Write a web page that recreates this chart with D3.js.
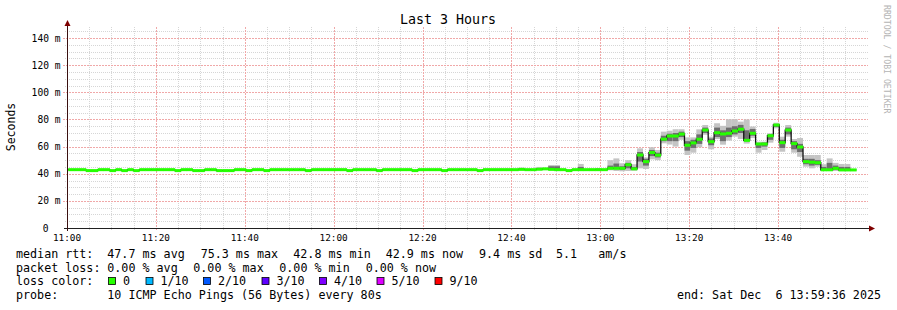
<!DOCTYPE html>
<html>
<head>
<meta charset="utf-8">
<script src="https://cdn.jsdelivr.net/npm/d3@7"></script>
<style>
  html, body { margin: 0; padding: 0; background: #ffffff; }
  svg { display: block; }
  text { font-family: "DejaVu Sans Mono", monospace; fill: #000; white-space: pre; }
</style>
</head>
<body>
<svg id="chart" width="897" height="310"></svg>
<script>
// ---------------- DATA ----------------
const title = "Last 3 Hours";
const yAxisLabel = "Seconds";
const stepSeconds = 80;
const firstStep = "2025-12-06T11:00:16Z";
const timeStart = "2025-12-06T11:00:00Z";
const timeEnd = "2025-12-06T14:00:00Z";

// median rtt per 80 s step (ms)
const median = [
  43.0,43.0,43.0,42.3,42.3,43.0,43.0,42.3,43.0,42.3,
  43.0,42.3,43.0,43.0,43.0,43.0,43.0,43.0,42.3,43.0,
  43.0,42.3,42.3,43.0,43.0,42.3,42.3,42.3,43.0,43.0,
  42.3,43.0,43.0,42.3,43.0,43.0,43.0,43.0,43.0,43.0,
  42.3,43.0,43.0,43.0,43.0,43.0,43.0,42.3,43.0,43.0,
  43.0,43.0,42.3,43.0,43.0,43.0,43.0,43.0,42.3,43.0,
  43.0,43.0,43.0,42.3,43.0,43.0,43.0,43.0,43.0,42.3,
  43.0,43.0,43.0,43.0,43.0,43.0,43.2,43.0,43.0,43.3,
  43.6,43.2,43.0,43.0,42.3,43.0,43.0,43.0,43.0,43.0,
  43.0,44.0,44.0,44.0,46.6,43.6,53.8,48.9,55.6,53.7,
  65.5,67.8,67.8,69.2,61.0,62.7,65.4,72.2,63.6,70.2,
  69.3,69.8,71.5,72.8,64.6,69.8,61.9,61.9,68.0,75.9,
  62.9,72.2,62.2,59.7,48.9,48.5,48.1,42.9,42.9,44.0,
  42.8,42.8,42.8
];

// smoke (spread of the 10 pings): steps with visible smoke only
const smokeStep = [76,79,81,82,86,89,
  91,92,93,94,95,96,97,98,99,100,101,102,103,104,105,106,107,108,109,110,
  111,112,113,114,115,116,117,118,119,120,121,122,123,124,125,126,127,128,129,130,131];
const smokeMax = [44.5,45.0,46.4,46.4,47.2,44.2,
  50.0,51.3,47.7,50.0,47.0,58.7,52.0,59.5,57.5,71.0,71.7,72.8,72.8,66.8,66.8,72.7,75.9,67.3,77.2,75.3,
  80.1,80.1,78.4,80.0,74.8,63.6,63.6,69.8,77.6,67.3,75.9,65.6,66.3,53.8,53.8,53.8,47.0,51.3,48.0,47.2,47.2];
const smokeMin = [43.0,43.0,42.8,42.8,43.0,43.0,
  42.5,42.0,41.8,42.0,42.2,44.0,43.5,50.6,50.0,62.4,61.5,60.0,65.0,53.8,55.5,59.5,68.7,58.0,65.6,61.4,
  64.4,67.3,65.6,62.2,66.3,55.5,57.5,62.9,73.5,56.2,67.3,55.5,52.5,45.2,44.0,45.2,42.0,42.0,42.0,42.0,42.0];
const coreMax = [43.8,44.0,45.5,45.5,45.0,43.6,
  46.0,47.5,45.5,48.0,45.0,56.0,51.0,57.5,55.5,68.0,69.5,70.0,71.0,64.0,65.0,69.0,74.0,66.0,74.0,72.0,
  74.0,75.0,76.0,72.0,73.0,62.0,63.0,69.0,76.5,65.0,74.0,64.0,62.0,51.0,51.0,50.0,45.0,48.0,46.0,45.0,45.0];
const coreMin = [43.0,43.0,43.5,43.5,43.0,43.0,
  43.5,43.5,43.0,44.0,42.8,49.0,46.0,53.0,52.0,64.0,64.0,64.0,67.0,57.0,59.0,62.0,70.0,61.0,67.0,64.0,
  67.0,69.0,70.0,64.0,68.0,59.0,60.0,65.0,74.5,59.0,69.0,58.0,56.0,47.0,46.0,46.5,42.5,43.0,43.0,42.5,42.5];

// axes
const yMax = 147.4;
const yMajorTicks = [0,20,40,60,80,100,120,140];
const yTickLabels = ["0","20 m","40 m","60 m","80 m","100 m","120 m","140 m"];
const yMinorStep = 5;
const xTickLabels = ["11:00","11:20","11:40","12:00","12:20","12:40","13:00","13:20","13:40"];
const xMinorMinutes = 5;
const xMajorMinutes = 20;

// legend
const lossLabels = ["0","1/10","2/10","3/10","4/10","5/10","9/10"];
const lossColors = ["#26ff00","#00b8ff","#0059ff","#5e00ff","#7e00ff","#dd00ff","#ff0000"];
const rttStats = ["47.7 ms avg","75.3 ms max","42.8 ms min","42.9 ms now","9.4 ms sd","5.1","am/s"];
const lossStats = ["0.00 % avg","0.00 % max","0.00 % min","0.00 % now"];
const probeText = "10 ICMP Echo Pings (56 Bytes) every 80s";
const endText = "end: Sat Dec  6 13:59:36 2025";

// ---------------- DRAW ----------------
const svg = d3.select("#chart");
const W = 897, H = 310;
svg.append("rect").attr("width", W).attr("height", H).attr("fill", "#ffffff");

const x = d3.scaleUtc().domain([new Date(timeStart), new Date(timeEnd)]).range([67, 867]);
const y = d3.scaleLinear().domain([0, yMax]).range([228, 28]);
const t0 = new Date(firstStep).getTime();
const stepTime = k => new Date(t0 + k * stepSeconds * 1000);

const grid = svg.append("g").attr("shape-rendering", "crispEdges");
const minorColor = "#d6d6d6", majorColor = "#f0a8a8";
// minor horizontal grid
d3.range(yMinorStep, yMax, yMinorStep).filter(v => v % 20 !== 0).forEach(v => {
  grid.append("line").attr("x1", 65).attr("x2", 868)
    .attr("y1", Math.round(y(v)) + 0.5).attr("y2", Math.round(y(v)) + 0.5)
    .attr("stroke", minorColor).attr("stroke-width", 1).attr("stroke-dasharray", "1,1");
});
// minor vertical grid
const minorTimes = d3.utcMinute.every(xMinorMinutes).range(new Date(timeStart), new Date(timeEnd));
minorTimes.filter(d => d.getUTCMinutes() % xMajorMinutes !== 0).forEach(d => {
  grid.append("line").attr("x1", Math.round(x(d)) + 0.5).attr("x2", Math.round(x(d)) + 0.5)
    .attr("y1", 27).attr("y2", 230)
    .attr("stroke", minorColor).attr("stroke-width", 1).attr("stroke-dasharray", "1,1");
});
// major horizontal grid
yMajorTicks.filter(v => v > 0).forEach(v => {
  grid.append("line").attr("x1", 63).attr("x2", 868)
    .attr("y1", Math.round(y(v)) + 0.5).attr("y2", Math.round(y(v)) + 0.5)
    .attr("stroke", majorColor).attr("stroke-width", 1).attr("stroke-dasharray", "2,1");
});
// major vertical grid
const majorTimes = d3.utcMinute.every(xMajorMinutes).range(new Date(timeStart), new Date(timeEnd));
majorTimes.forEach(d => {
  grid.append("line").attr("x1", Math.round(x(d)) + 0.5).attr("x2", Math.round(x(d)) + 0.5)
    .attr("y1", 27).attr("y2", 231)
    .attr("stroke", majorColor).attr("stroke-width", 1).attr("stroke-dasharray", "2,1");
});

// smoke
const smoke = svg.append("g");
smokeStep.forEach((k, i) => {
  const x0 = x(stepTime(k)), x1 = x(stepTime(k + 1));
  smoke.append("rect").attr("x", x0).attr("width", x1 - x0)
    .attr("y", y(smokeMax[i])).attr("height", y(smokeMin[i]) - y(smokeMax[i]))
    .attr("fill", "#c4c4c4");
  smoke.append("rect").attr("x", x0).attr("width", x1 - x0)
    .attr("y", y(coreMax[i])).attr("height", y(coreMin[i]) - y(coreMax[i]))
    .attr("fill", "#6e6e6e");
});

// median step line (black)
const pts = median.map((v, k) => [stepTime(k), v]);
pts.push([stepTime(median.length), median[median.length - 1]]);
svg.append("path").datum(pts)
  .attr("d", d3.line().x(d => x(d[0])).y(d => y(d[1])).curve(d3.curveStepAfter))
  .attr("fill", "none").attr("stroke", "#111").attr("stroke-width", 1.3);

// median loss-colour band (green, 0 loss)
const med = svg.append("g");
median.forEach((v, k) => {
  const x0 = x(stepTime(k)), x1 = x(stepTime(k + 1));
  med.append("rect").attr("x", x0).attr("width", x1 - x0 + 0.3)
    .attr("y", y(v) - 1.5).attr("height", 3).attr("fill", lossColors[0]);
});

// axes
svg.append("line").attr("x1", 64).attr("x2", 869).attr("y1", 228.5).attr("y2", 228.5)
  .attr("stroke", "#202020").attr("stroke-width", 1);
svg.append("line").attr("x1", 67.5).attr("x2", 67.5).attr("y1", 231).attr("y2", 24)
  .attr("stroke", "#3a1010").attr("stroke-width", 1);
svg.append("path").attr("d", "M64.5,26 L70.5,26 L67.5,20 Z").attr("fill", "#7f0000");
svg.append("path").attr("d", "M869,225.5 L869,231.5 L875,228.5 Z").attr("fill", "#7f0000");

// y tick labels
yMajorTicks.forEach((v, i) => {
  svg.append("text").attr("x", v === 0 ? 48.5 : 60.5).attr("y", y(v) + 3.5)
    .attr("text-anchor", "end").style("font-size", "9.6px").text(yTickLabels[i]);
});
// x tick labels
majorTimes.forEach((d, i) => {
  svg.append("text").attr("x", x(d)).attr("y", 241)
    .attr("text-anchor", "middle").style("font-size", "9.4px").text(xTickLabels[i]);
});

// title
svg.append("text").attr("x", 448).attr("y", 24).attr("text-anchor", "middle")
  .style("font-size", "13.3px").text(title);
// y axis label
svg.append("text").attr("transform", "translate(15,127) rotate(-90)")
  .attr("text-anchor", "middle").style("font-size", "11.5px").text(yAxisLabel);
// rrdtool credit
svg.append("text").attr("transform", "translate(884,5) rotate(90)")
  .style("font-size", "8.2px").style("fill", "#b4b4b4").text("RRDTOOL / TOBI OETIKER");

// legend
const lf = "11.7px";
const L1 = 258, L2 = 271.5, L3 = 285, L4 = 299;
const leg = svg.append("g").style("font-size", lf);
leg.append("text").attr("x", 16).attr("y", L1).text("median rtt:");
const rttX = [107.3, 200.7, 293.3, 385.7, 479, 556, 598.3];
rttStats.forEach((s, i) => leg.append("text").attr("x", rttX[i]).attr("y", L1).text(s));
leg.append("text").attr("x", 16).attr("y", L2).text("packet loss:");
const lossX = [107.3, 193.3, 279.3, 365.7];
lossStats.forEach((s, i) => leg.append("text").attr("x", lossX[i]).attr("y", L2).text(s));
leg.append("text").attr("x", 16).attr("y", L3).text("loss color:");
const boxX = [108.5, 146, 203.5, 262, 319.5, 377, 435];
lossLabels.forEach((s, i) => {
  leg.append("rect").attr("x", boxX[i]).attr("y", L3 - 7.5).attr("width", 7).attr("height", 7)
    .attr("fill", lossColors[i]).attr("stroke", "#000").attr("stroke-width", 0.8);
  leg.append("text").attr("x", boxX[i] + 14.5).attr("y", L3).text(s);
});
leg.append("text").attr("x", 16).attr("y", L4).text("probe:");
leg.append("text").attr("x", 107.3).attr("y", L4).text(probeText);
leg.append("text").attr("x", 881).attr("y", L4).attr("text-anchor", "end").text(endText);
</script>
</body>
</html>
